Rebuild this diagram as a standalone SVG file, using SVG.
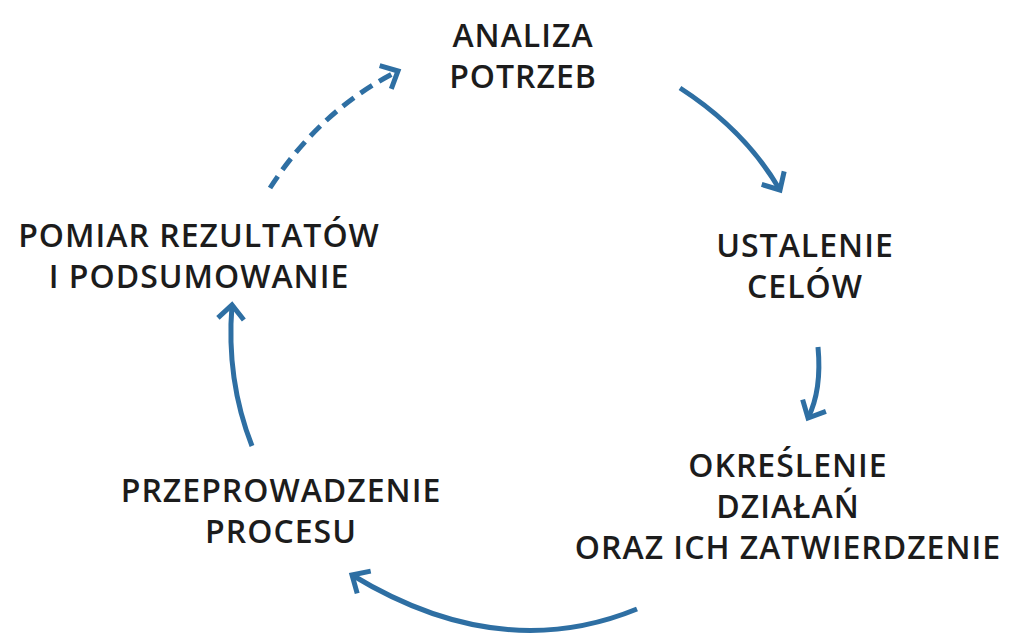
<svg xmlns="http://www.w3.org/2000/svg" width="1024" height="635" viewBox="0 0 1024 635">
<style>
text{font-family:"Open Sans","Liberation Sans",sans-serif;font-weight:600;font-size:32px;letter-spacing:1px;fill:#1c1c1c;text-anchor:middle}
.c{fill:none;stroke:#2e6fa3;stroke-width:5}
</style>
<defs>
<marker id="a" markerUnits="userSpaceOnUse" markerWidth="40" markerHeight="40" viewBox="-20 -20 40 40" refX="0" refY="0" orient="auto">
<path d="M-14,-13 L0,0 L-14,13" fill="none" stroke="#2e6fa3" stroke-width="5" stroke-linecap="butt"/>
</marker>
</defs>
<rect width="1024" height="635" fill="#fff"/>
<g id="connectors">
<path class="c" d="M680,88 Q745,130 780,190" marker-end="url(#a)"/>
<path class="c" d="M818,347 Q822,390 808,418" marker-end="url(#a)"/>
<path class="c" d="M637,609 Q500,665 352,575" marker-end="url(#a)"/>
<path class="c" d="M252,446 Q226,380 232,305" marker-end="url(#a)"/>
<path class="c" d="M270,188 Q320,110 398,71" stroke-dasharray="14,8" marker-end="url(#a)"/>
</g>
<g id="n1"><text x="523" y="47">ANALIZA</text><text x="523" y="88">POTRZEB</text></g>
<g id="n2"><text x="805" y="257">USTALENIE</text><text x="805" y="298">CELÓW</text></g>
<g id="n3"><text x="788" y="477">OKREŚLENIE</text><text x="788" y="518">DZIAŁAŃ</text><text x="788" y="559">ORAZ ICH ZATWIERDZENIE</text></g>
<g id="n4"><text x="281" y="502">PRZEPROWADZENIE</text><text x="281" y="543">PROCESU</text></g>
<g id="n5"><text x="199" y="247">POMIAR REZULTATÓW</text><text x="199" y="288">I PODSUMOWANIE</text></g>
</svg>
